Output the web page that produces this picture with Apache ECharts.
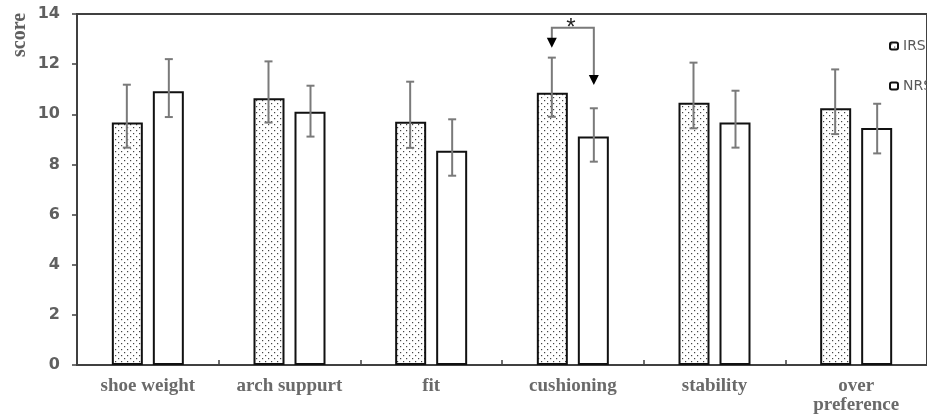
<!DOCTYPE html>
<html>
<head>
<meta charset="utf-8">
<script src="https://cdn.jsdelivr.net/npm/echarts@6/dist/echarts.min.js"></script>
<style>html,body{margin:0;padding:0;background:#fff;}#c{width:927px;height:416px;}</style>
</head>
<body>
<div id="c"></div>
<script>
var categories = ['shoe weight', 'arch suppurt', 'fit', 'cushioning', 'stability', 'over\npreference'];
var irsMean  = [9.67, 10.64, 9.70, 10.86, 10.46, 10.24];
var irsUpper = [11.18, 12.11, 11.30, 12.26, 12.06, 11.79];
var irsLower = [8.67, 9.67, 8.66, 9.90, 9.44, 9.21];
var nrsMean  = [10.92, 10.10, 8.55, 9.11, 9.67, 9.45];
var nrsUpper = [12.20, 11.14, 9.80, 10.24, 10.94, 10.42];
var nrsLower = [9.89, 9.11, 7.55, 8.11, 8.67, 8.44];
var yTicks = [0, 2, 4, 6, 8, 10, 12, 14];
// significance bracket: [category index, bracket top, left arrow tip, right arrow tip]
var sigMark = [[3, 13.45, 12.65, 11.17]];

var BAR_W = 31, GAP = 10;
var OFF = (BAR_W + GAP) / 2 + 0.5;

var pc = document.createElement('canvas');
pc.width = 6; pc.height = 6;
var g = pc.getContext('2d');
g.fillStyle = '#fff'; g.fillRect(0, 0, 6, 6);
g.fillStyle = '#444';
g.fillRect(1, 1, 1.2, 1.2);
g.fillRect(4, 4, 1.2, 1.2);

function errData(up, lo) {
  return up.map(function (u, i) { return [i, u, lo[i]]; });
}
function errRender(off) {
  return function (params, api) {
    var i = api.value(0);
    var top = api.coord([i, api.value(1)]);
    var bot = api.coord([i, api.value(2)]);
    var x = top[0] + off;
    var st = { stroke: '#7a7a7a', lineWidth: 2 };
    return { type: 'group', children: [
      { type: 'line', shape: { x1: x, y1: top[1], x2: x, y2: bot[1] }, style: st },
      { type: 'line', shape: { x1: x - 4, y1: top[1], x2: x + 4, y2: top[1] }, style: st },
      { type: 'line', shape: { x1: x - 4, y1: bot[1], x2: x + 4, y2: bot[1] }, style: st }
    ]};
  };
}

var chart = echarts.init(document.getElementById('c'));
chart.setOption({
  animation: false,
  backgroundColor: '#fff',
  grid: { left: 77, top: 14, width: 865, height: 351, show: true, borderColor: '#404040', borderWidth: 2 },
  legend: {
    orient: 'vertical', left: 884, top: 34, itemGap: 26, itemWidth: 8, itemHeight: 7,
    data: ['IRS', 'NRS'],
    textStyle: { fontFamily: 'DejaVu Sans', fontSize: 14, color: '#595959' }
  },
  graphic: [{
    type: 'text', x: 20, y: 35, rotation: Math.PI / 2,
    style: { text: 'score', fontFamily: 'Liberation Serif', fontWeight: 'bold', fontSize: 20, fill: '#5f5f5f', textAlign: 'center', textVerticalAlign: 'middle' }
  }],
  xAxis: {
    type: 'category', data: categories,
    axisLine: { lineStyle: { color: '#404040', width: 2 } },
    axisTick: { show: true, inside: true, length: 5, interval: 0, lineStyle: { color: '#404040', width: 1.5 } },
    axisLabel: { interval: 0, fontFamily: 'Liberation Serif', fontWeight: 'bold', fontSize: 19, color: '#6a6a6a', margin: 12, lineHeight: 19 }
  },
  yAxis: {
    type: 'value', min: yTicks[0], max: yTicks[yTicks.length - 1], interval: 2,
    axisLine: { show: true, lineStyle: { color: '#404040', width: 2 } },
    axisTick: { show: true, length: 5, lineStyle: { color: '#404040', width: 1.5 } },
    splitLine: { show: false },
    axisLabel: { fontFamily: 'DejaVu Sans', fontWeight: 'bold', fontSize: 16, color: '#606060', margin: 17 }
  },
  series: [
    { name: 'IRS', type: 'bar', data: irsMean, barWidth: BAR_W, barGap: (GAP / BAR_W * 100) + '%',
      itemStyle: { color: { image: pc, repeat: 'repeat' }, borderColor: '#111', borderWidth: 2 } },
    { name: 'NRS', type: 'bar', data: nrsMean, barWidth: BAR_W,
      itemStyle: { color: '#fff', borderColor: '#111', borderWidth: 2 } },
    { type: 'custom', data: errData(irsUpper, irsLower), renderItem: errRender(-OFF), z: 5, silent: true },
    { type: 'custom', data: errData(nrsUpper, nrsLower), renderItem: errRender(OFF), z: 5, silent: true },
    { type: 'custom', data: sigMark, z: 6, silent: true,
      renderItem: function (params, api) {
        var i = api.value(0);
        var c = api.coord([i, api.value(1)]);
        var yl = api.coord([i, api.value(2)])[1];
        var yr = api.coord([i, api.value(3)])[1];
        var xl = c[0] - OFF, xr = c[0] + OFF, yt = c[1];
        return { type: 'group', children: [
          { type: 'polyline', shape: { points: [[xl, yl - 9], [xl, yt], [xr, yt], [xr, yr - 9]] }, style: { stroke: '#7a7a7a', lineWidth: 2, fill: null } },
          { type: 'polygon', shape: { points: [[xl - 5, yl - 10], [xl + 5, yl - 10], [xl, yl]] }, style: { fill: '#000' } },
          { type: 'polygon', shape: { points: [[xr - 5, yr - 10], [xr + 5, yr - 10], [xr, yr]] }, style: { fill: '#000' } },
          { type: 'text', x: c[0] - 2, y: yt + 1, style: { text: '*', fontFamily: 'Liberation Sans', fontSize: 24, fill: '#222', textAlign: 'center', textVerticalAlign: 'middle' } }
        ]};
      }
    }
  ]
});
</script>
</body>
</html>
